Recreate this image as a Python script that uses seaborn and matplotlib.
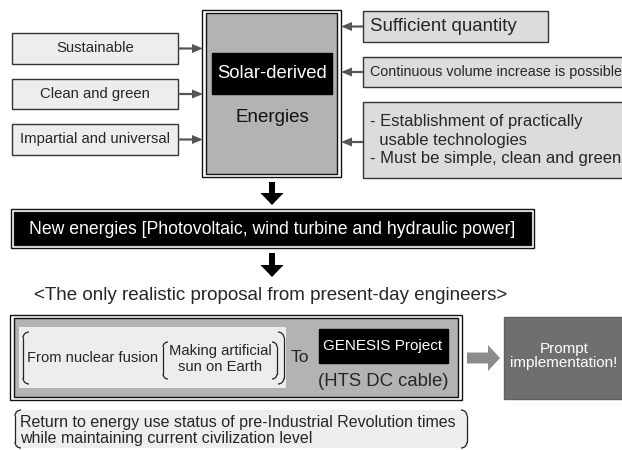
import numpy as np
import seaborn as sns
import matplotlib.pyplot as plt
from matplotlib.patches import Rectangle, FancyArrow, Arc

# texts of the diagram
left_labels = ["Sustainable", "Clean and green", "Impartial and universal"]
right_labels = ["Sufficient quantity", "Continuous volume increase is possible",
                "- Establishment of practically\n  usable technologies\n- Must be simple, clean and green"]
center_title = "Solar-derived"
center_sub = "Energies"
new_energies = "New energies [Photovoltaic, wind turbine and hydraulic power]"
proposal = "<The only realistic proposal from present-day engineers>"
fusion_text = "From nuclear fusion"
sun_text = "Making artificial\nsun on Earth"
to_text = "To"
genesis = "GENESIS Project"
cable = "(HTS DC cable)"
prompt = "Prompt\nimplementation!"
bottom_note = ["Return to energy use status of pre-Industrial Revolution times",
               "while maintaining current civilization level"]

sns.set_style("white")
plt.rcParams['font.family'] = ['Liberation Sans', 'DejaVu Sans']

fig = plt.figure(figsize=(6.22, 4.5), dpi=100)
ax = fig.add_axes([0, 0, 1, 1])
ax.set_xlim(0, 622)
ax.set_ylim(450, 0)
ax.axis('off')


def box(x0, y0, x1, y1, fc, ec='#333333', lw=1.0, z=2):
    ax.add_patch(Rectangle((x0, y0), x1 - x0, y1 - y0, fc=fc, ec=ec, lw=lw, zorder=z))


def double_box(x0, y0, x1, y1, fc, gap=4):
    box(x0, y0, x1, y1, 'white', ec='#111111', lw=1.0)
    box(x0 + gap, y0 + 3, x1 - gap, y1 - 3, fc, ec='#111111', lw=1.0, z=3)


def bracket(x, y0, y1, side, r=5, lw=0.9, color='#222222'):
    # side = +1 opens to the right "(", -1 opens to the left ")"
    ax.plot([x, x], [y0 + r, y1 - r], color=color, lw=lw, zorder=6)
    cx = x + side * r
    if side > 0:
        ax.add_patch(Arc((cx, y0 + r), 2 * r, 2 * r, theta1=180, theta2=270, color=color, lw=lw, zorder=6))
        ax.add_patch(Arc((cx, y1 - r), 2 * r, 2 * r, theta1=90, theta2=180, color=color, lw=lw, zorder=6))
    else:
        ax.add_patch(Arc((cx, y0 + r), 2 * r, 2 * r, theta1=270, theta2=360, color=color, lw=lw, zorder=6))
        ax.add_patch(Arc((cx, y1 - r), 2 * r, 2 * r, theta1=0, theta2=90, color=color, lw=lw, zorder=6))


def small_arrow(x0, x1, y):
    ax.add_patch(FancyArrow(x0, y, x1 - x0, 0, width=2.2, head_width=9, head_length=11,
                            length_includes_head=True, color='#555555', lw=0, zorder=4))


def down_arrow(x, y0, y1):
    ax.add_patch(FancyArrow(x, y0, 0, y1 - y0, width=6, head_width=23, head_length=12,
                            length_includes_head=True, color='black', lw=0, zorder=4))


# center box
double_box(202, 10, 341, 177, '#b3b3b3')
box(212, 53, 332, 94, 'black', ec='black', z=4)
ax.text(272, 74, center_title, color='white', fontsize=13.3, ha='center', va='center', zorder=5)
ax.text(272, 118, center_sub, color='#111111', fontsize=13.5, ha='center', va='center', zorder=5)

# left boxes
left_y = [(33, 64), (79, 109), (124, 155)]
for lab, (ya, yb) in zip(left_labels, left_y):
    box(12, ya, 178, yb, '#ededed')
    ax.text(95, (ya + yb) / 2, lab, fontsize=10.7, ha='center', va='center', zorder=5)
    small_arrow(178, 203, (ya + yb) / 2)

# right boxes
right_y = [(11, 42, 548), (57, 87, 630), (102, 178, 630)]
for lab, (ya, yb, xr) in zip(right_labels, right_y):
    box(363, ya, xr, yb, '#dcdcdc')
    small_arrow(363, 341, (ya + yb) / 2 + (2 if ya > 100 else 0))
ax.text(370, 26.5, right_labels[0], fontsize=13.4, ha='left', va='center', zorder=5)
ax.text(370, 72, right_labels[1], fontsize=10.3, ha='left', va='center', zorder=5)
ax.text(370, 140, right_labels[2], fontsize=12, ha='left', va='center', linespacing=1.3, zorder=5)

# new energies
down_arrow(272, 182, 205)
double_box(11, 209, 534, 248, 'black', gap=3)
ax.text(272, 229, new_energies, color='white', fontsize=12.7, ha='center', va='center', zorder=5)
down_arrow(272, 253, 277)
ax.text(271, 295, proposal, fontsize=13.5, ha='center', va='center', zorder=5)

# bottom proposal box
double_box(10, 315, 462, 400, '#b3b3b3')
box(19, 327, 286, 388, '#ededed', ec='none', z=4)
bracket(23, 332, 384, 1, r=6)
bracket(284, 332, 384, -1, r=6)
bracket(163, 342, 379, 1, r=5)
bracket(277, 342, 379, -1, r=5)
ax.text(93, 358, fusion_text, fontsize=10.6, ha='center', va='center', zorder=5)
ax.text(220, 359, sun_text, fontsize=10.6, ha='center', va='center', linespacing=1.15, zorder=5)
ax.text(300, 358, to_text, fontsize=12.5, ha='center', va='center', zorder=5)
box(319, 329, 448, 363, 'black', ec='black', z=4)
ax.text(383, 346, genesis, color='white', fontsize=11, ha='center', va='center', zorder=5)
ax.text(383, 381, cable, fontsize=13.3, ha='center', va='center', zorder=5)

ax.add_patch(FancyArrow(467, 358, 33, 0, width=11, head_width=26, head_length=12,
                        length_includes_head=True, color='#8c8c8c', lw=0, zorder=4))
box(504, 317, 630, 399, '#6f6f6f', ec='#606060')
ax.text(564, 356, prompt, color='white', fontsize=11, ha='center', va='center',
        linespacing=1.0, zorder=5)

# bottom note
box(15, 410, 467, 448, '#eeeeee', ec='none', z=2)
bracket(15, 410, 448, 1, r=6)
bracket(467, 410, 448, -1, r=6)
ax.text(20, 422, bottom_note[0], fontsize=11.5, ha='left', va='center', zorder=5)
ax.text(20, 438.5, bottom_note[1], fontsize=11.5, ha='left', va='center', zorder=5)

fig.savefig('out.png', dpi=100)
